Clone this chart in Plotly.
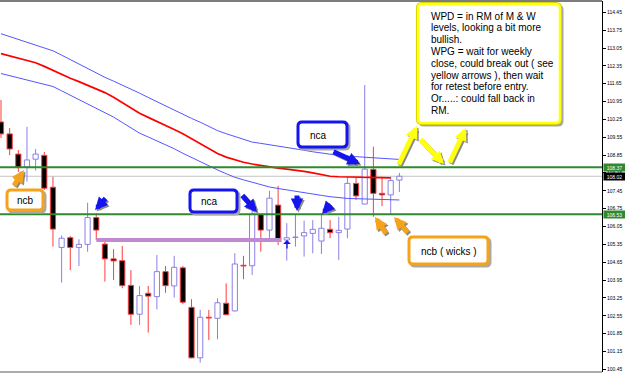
import plotly.graph_objects as go

# ---------------- data ----------------
opens = [110.15, 109.68, 108.89, 108.38, 108.69, 108.84, 107.59, 105.23, 105.61, 105.23,
         105.35, 106.40, 105.36, 104.78, 104.71, 103.74, 102.61, 103.43, 103.30, 104.28,
         103.72, 104.43, 102.88, 100.90, 102.49, 102.45, 103.04, 102.74, 104.53, 104.51,
         106.53, 105.91, 106.89, 105.52, 105.62, 105.68, 105.78, 105.48, 105.94, 105.81,
         105.95, 107.74, 106.93, 108.29, 107.35, 107.29, 107.87]
highs = [111.01, 109.91, 109.05, 109.96, 109.09, 108.97, 108.00, 105.70, 105.68, 105.55,
         106.98, 106.57, 105.49, 105.16, 105.29, 104.34, 103.72, 103.72, 104.93, 104.50,
         104.90, 104.50, 103.20, 102.78, 102.78, 103.23, 103.82, 105.00, 104.90, 106.74,
         106.54, 107.45, 107.64, 106.18, 106.50, 106.28, 106.30, 106.50, 106.30, 106.43,
         108.00, 107.98, 111.60, 109.18, 108.00, 108.00, 108.15]
lows = [109.52, 108.85, 108.19, 107.81, 108.24, 107.48, 105.26, 103.85, 104.34, 104.50,
        105.06, 105.52, 103.89, 103.95, 103.63, 102.19, 102.19, 101.89, 102.80, 103.45,
        103.26, 103.00, 100.88, 100.71, 101.60, 101.63, 102.58, 102.72, 103.98, 104.15,
        105.06, 105.55, 105.32, 104.71, 105.26, 104.87, 105.00, 104.97, 105.59, 104.74,
        105.59, 107.09, 106.92, 106.43, 106.85, 106.54, 107.40]
closes = [109.68, 109.09, 108.38, 108.66, 108.89, 107.55, 105.95, 105.59, 105.23, 105.35,
          106.40, 105.91, 104.78, 104.70, 103.73, 102.61, 103.34, 103.32, 104.28, 103.73,
          104.45, 103.08, 100.90, 102.49, 102.46, 103.06, 102.59, 104.58, 104.50, 106.53,
          105.91, 107.16, 105.55, 105.61, 105.63, 105.81, 105.94, 105.98, 105.81, 105.90,
          107.74, 107.25, 108.30, 107.35, 107.29, 107.85, 108.02]

ma_upper = [113.61, 113.50, 113.40, 113.29, 113.18, 113.07, 112.94, 112.77, 112.59, 112.42,
            112.24, 112.07, 111.90, 111.75, 111.60, 111.44, 111.28, 111.11, 110.94, 110.78,
            110.60, 110.44, 110.29, 110.14, 109.98, 109.81, 109.69, 109.58, 109.46, 109.36,
            109.31, 109.26, 109.21, 109.16, 109.10, 109.04, 108.98, 108.93, 108.87, 108.84,
            108.81, 108.79, 108.76, 108.74, 108.72, 108.70, 108.68]
ma_mid = [112.83, 112.74, 112.66, 112.57, 112.47, 112.33, 112.17, 112.01, 111.86, 111.73,
          111.59, 111.45, 111.30, 111.12, 110.92, 110.71, 110.49, 110.33, 110.16, 110.00,
          109.85, 109.69, 109.50, 109.31, 109.11, 108.91, 108.77, 108.66, 108.57, 108.50,
          108.44, 108.38, 108.34, 108.30, 108.26, 108.21, 108.15, 108.09, 108.02, 108.00,
          107.99, 107.99, 107.98, 107.98, 107.97, 107.96, None]
ma_lower = [112.05, 111.97, 111.89, 111.81, 111.73, 111.65, 111.54, 111.37, 111.20, 111.03,
            110.86, 110.69, 110.52, 110.34, 110.13, 109.92, 109.71, 109.56, 109.41, 109.26,
            109.10, 108.92, 108.75, 108.58, 108.43, 108.27, 108.12, 107.98, 107.88, 107.78,
            107.68, 107.60, 107.54, 107.48, 107.42, 107.36, 107.31, 107.27, 107.22, 107.18,
            107.15, 107.14, 107.13, 107.12, 107.11, 107.10, 107.09]

levels = [108.37, 106.53]            # green horizontal levels
retest_level = 105.52                # purple line
retest_span = [11, 32.4]             # candle index span of purple line
ytick_vals = [114.45, 113.75, 113.05, 112.35, 111.65, 110.95, 110.25, 109.55, 108.85,
              108.15, 107.45, 106.75, 106.05, 105.35, 104.65, 103.95, 103.25, 102.55,
              101.85, 101.15, 100.45]

note_lines = ["WPD = in RM of M & W", "levels, looking a bit more", "bullish.",
              "WPG = wait for weekly", "close, could break out ( see",
              "yellow arrows ), then wait", "for retest before entry.",
              "Or.....: could fall back in", "RM."]

# ---------------- figure ----------------
BULL_C = '#8a80e4'
BEAR_C = '#ff3b3b'
FONT = 'Liberation Sans'

n = len(opens)
idx = list(range(n))
bull = [i for i in idx if closes[i] >= opens[i]]
bear = [i for i in idx if closes[i] < opens[i]]


def wick_xy(ids):
    xs, ys = [], []
    for i in ids:
        top = max(opens[i], closes[i])
        bot = min(opens[i], closes[i])
        xs += [i, i, None, i, i, None]
        ys += [highs[i], top, None, bot, lows[i], None]
    return xs, ys


fig = go.Figure()
for ids, col, fill in [(bull, BULL_C, 'white'), (bear, BEAR_C, 'black')]:
    fig.add_trace(go.Bar(
        x=ids, base=[min(opens[i], closes[i]) for i in ids],
        y=[max(abs(closes[i] - opens[i]), 0.015) for i in ids],
        width=0.6, marker=dict(color=fill, line=dict(color=col, width=1)),
        showlegend=False, hoverinfo='skip'))
    wx, wy = wick_xy(ids)
    fig.add_trace(go.Scatter(x=wx, y=wy, mode='lines', line=dict(color=col, width=1),
                             showlegend=False, hoverinfo='skip'))

fig.add_trace(go.Scatter(x=idx, y=ma_upper, mode='lines', line=dict(color='#5555ff', width=1),
                         showlegend=False, hoverinfo='skip'))
fig.add_trace(go.Scatter(x=idx, y=ma_lower, mode='lines', line=dict(color='#5555ff', width=1),
                         showlegend=False, hoverinfo='skip'))
fig.add_trace(go.Scatter(x=idx, y=ma_mid, mode='lines', line=dict(color='#ff0000', width=1.7),
                         showlegend=False, hoverinfo='skip'))
fig.add_trace(go.Scatter(x=retest_span, y=[retest_level, retest_level], mode='lines',
                         line=dict(color='#c08ad0', width=4), showlegend=False, hoverinfo='skip'))

shapes = []
# current price line
shapes.append(dict(type='line', xref='paper', x0=0, x1=1, yref='y', y0=closes[-1], y1=closes[-1],
                   line=dict(color='#c4c4c4', width=1), layer='below'))
for lv in levels:
    shapes.append(dict(type='line', xref='paper', x0=0, x1=1, yref='y', y0=lv, y1=lv,
                       line=dict(color='#2f8a2f', width=2)))
# frame top/bottom
shapes.append(dict(type='line', xref='paper', yref='paper', x0=0, x1=1, y0=1, y1=1,
                   line=dict(color='#505050', width=1.5)))
shapes.append(dict(type='line', xref='paper', yref='paper', x0=0, x1=1, y0=0, y1=0,
                   line=dict(color='#909090', width=1.5)))

# --- pixel helpers for callouts ---
W, H = 602.0, 371.0


def X(px):
    return px / W


def Y(py):
    return (372 - py) / H


def rr(x0, y0, x1, y1, r=4):
    def p(x, y):
        return f"{X(x):.5f},{Y(y):.5f}"
    return (f"M{p(x0 + r, y0)} L{p(x1 - r, y0)} Q{p(x1, y0)} {p(x1, y0 + r)} "
            f"L{p(x1, y1 - r)} Q{p(x1, y1)} {p(x1 - r, y1)} L{p(x0 + r, y1)} "
            f"Q{p(x0, y1)} {p(x0, y1 - r)} L{p(x0, y0 + r)} Q{p(x0, y0)} {p(x0 + r, y0)} Z")


def box(x0, y0, x1, y1, color, edge=None):
    shapes.append(dict(type='path', xref='paper', yref='paper', path=rr(x0 + 2, y0 + 2, x1 + 2, y1 + 2),
                       fillcolor='#a8a8a8', line=dict(color='#a8a8a8', width=3)))
    if edge:
        shapes.append(dict(type='path', xref='paper', yref='paper', path=rr(x0, y0, x1, y1),
                           fillcolor='white', line=dict(color=edge, width=4)))
    shapes.append(dict(type='path', xref='paper', yref='paper', path=rr(x0, y0, x1, y1),
                       fillcolor='white', line=dict(color=color, width=2.6 if edge else 3)))


ORANGE = '#f5a31a'
BLUE = '#1414f0'
YELLOW = '#ffff10'

box(7, 190, 43, 210, ORANGE)
box(190, 190, 237, 212, BLUE)
box(298, 122, 347, 147, BLUE)
box(409, 237, 488, 264, ORANGE)
box(418, 4, 560, 123, YELLOW, edge='#c9c900')

annotations = []


def label(px, py, text, anchor='left'):
    annotations.append(dict(x=X(px), y=Y(py), xref='paper', yref='paper', text=text, showarrow=False,
                            xanchor=anchor, yanchor='middle',
                            font=dict(family=FONT, size=10, color='black')))


label(25, 200, 'ncb', 'center')
label(199, 201, 'nca')
label(307.5, 135, 'nca')
label(419, 251, 'ncb ( wicks )')
for k, t in enumerate(note_lines):
    label(429, 16 + 11.8 * k, t)


def arrow(tail, head, color, width=5, size=0.5, shadow=True, style=2):
    items = []
    if shadow:
        items.append(((head[0] + 1.5, head[1] + 1.5), '#8a8a8a'))
    items.append((head, color))
    for h, c in items:
        annotations.append(dict(x=X(h[0]), y=Y(h[1]), xref='paper', yref='paper', text='',
                                showarrow=True, axref='pixel', ayref='pixel',
                                ax=tail[0] - head[0], ay=tail[1] - head[1],
                                arrowhead=style, arrowsize=size, arrowwidth=width, arrowcolor=c,
                                standoff=0, startstandoff=0))


arrow((13, 187), (24, 170), ORANGE)
arrow((387, 235), (375, 217), ORANGE)
arrow((409, 234), (394, 217), ORANGE)
arrow((332, 151), (360, 164), BLUE)
arrow((241, 194), (257, 212), BLUE)
arrow((107, 197), (95, 210), BLUE)
arrow((297, 194), (297, 211), BLUE)
arrow((332, 203), (322, 214), BLUE)
arrow((287, 250), (287, 240), BLUE, width=1.3, size=1.0, shadow=False, style=1)
arrow((398, 166), (417, 126), YELLOW)
arrow((419, 138), (444, 164), YELLOW)
arrow((449, 164), (466, 128), YELLOW)

# price labels on the axis
for val, bg in [(levels[0], '#2f8a2f'), (closes[-1], '#000000'), (levels[1], '#2f8a2f')]:
    annotations.append(dict(x=1, xref='paper', y=val, yref='y', text=f"{val:.2f}", showarrow=False,
                            xanchor='left', yanchor='middle', xshift=1, bgcolor=bg, borderpad=0,
                            width=21, height=7, font=dict(family=FONT, size=5, color='white')))

fig.update_layout(
    width=625, height=373,
    margin=dict(l=0, r=23, t=1, b=1, autoexpand=False),
    paper_bgcolor='white', plot_bgcolor='white',
    barmode='overlay', showlegend=False,
    shapes=shapes, annotations=annotations,
    xaxis=dict(range=[-0.115, 69.4], showgrid=False, zeroline=False, showticklabels=False,
               ticks='', fixedrange=True),
    yaxis=dict(range=[100.344, 114.893], side='right', showgrid=False, zeroline=False,
               tickvals=ytick_vals, ticktext=[f"{v:.2f}" for v in ytick_vals],
               ticks='outside', ticklen=3, tickcolor='black', showline=True, linecolor='black',
               linewidth=1, tickfont=dict(family=FONT, size=5, color='black'), automargin=False),
)

fig.write_html("out.html")
